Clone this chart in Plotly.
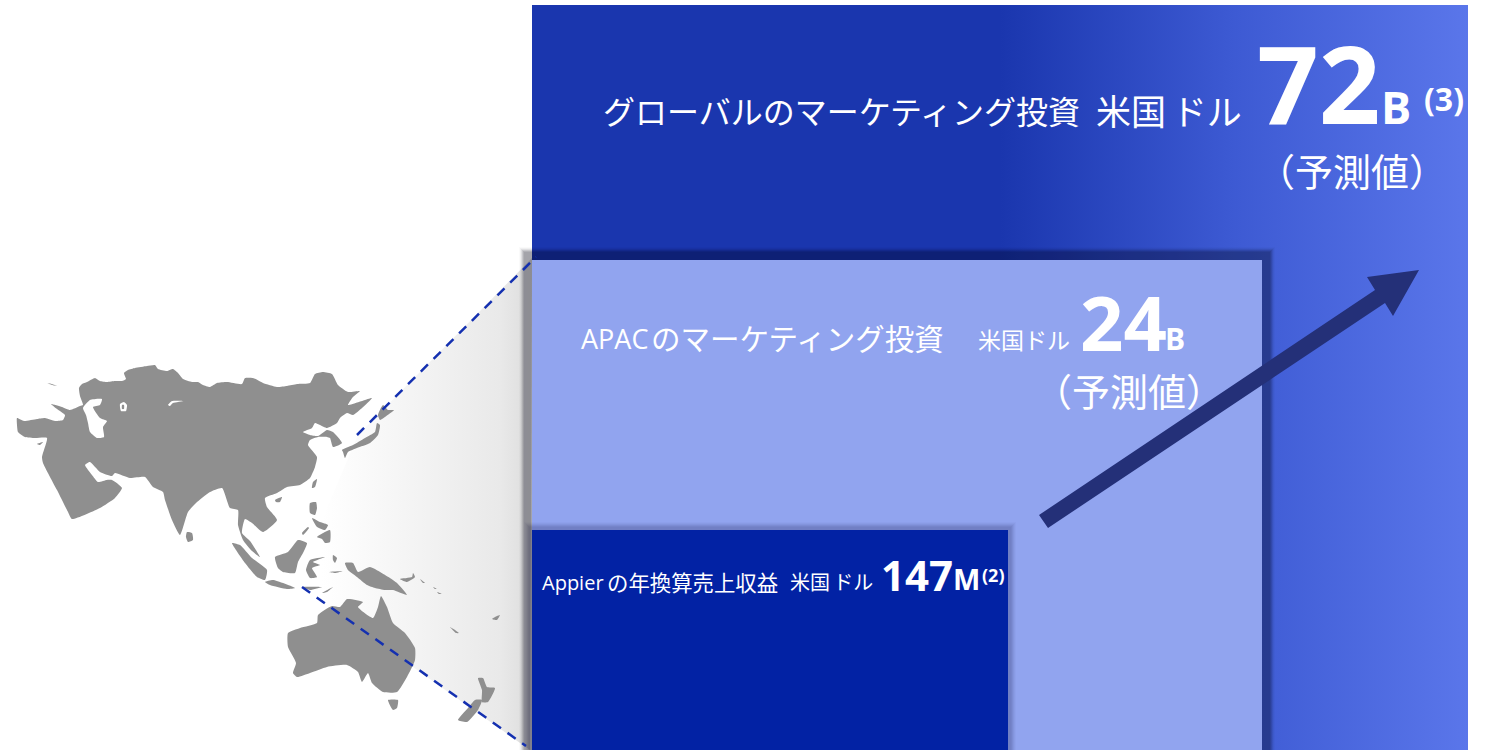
import plotly.graph_objects as go

W, H = 1491, 750
JP = "Open Sans, Noto Sans CJK JP, sans-serif"
NUM = "Open Sans, sans-serif"

# Nested market panels as left, top, right, bottom on the page grid
panel_global = (532, 5, 1468, 750)
panel_apac = (532, 260, 1262, 750)
panel_appier = (532, 530, 1008, 750)

global_stops = [[0, "#1a36ae"], [0.5, "#1a36ae"], [0.75, "#3d5ad3"], [1, "#5a76ea"]]
wedge_stops = [[0, "#ffffff"], [0.12, "#fcfcfc"], [0.85, "#e9e9e9"], [1, "#dcdcdc"]]

wedge_x = [532, 358, 322, 300, 530]
wedge_y = [258, 435, 520, 587, 750]

# Soft edges: outward growth in px and the opacity of that ring
apac_edge = [(13, 0.02), (12, 0.04), (11, 0.07), (10, 0.10), (9, 0.11), (8, 0.08)]
appier_edge = [(8, 0.02), (7, 0.03), (6, 0.04), (5, 0.05), (4, 0.05), (3, 0.03)]

# Arrow outline
arrow_x = [1039, 1375, 1367, 1419, 1393, 1385, 1048]
arrow_y = [515, 290, 277, 270, 316, 303, 528]

# Guide lines from the map to the APAC panel
guide_upper_x, guide_upper_y = [357, 536], [435, 257]
guide_lower_x, guide_lower_y = [302, 526], [587, 746]

# Land outlines
mainland = [(17,418),(24,421),(37,419),(45,418),(55,421),(63,420),(65,415),(57,409),(51,404),(62,407),(70,410),
    (80,406),(83,405),(80,396),(79,388),(82,384),(87,382),(95,378),(100,381),(107,382),(115,381),(122,381),(126,379),
    (124,373),(128,370),(135,368),(147,366),(155,365),(158,369),(167,371),(173,369),(178,373),(183,379),(192,382),
    (198,382),(203,385),(210,387),(217,383),(227,382),(242,384),(245,378),(253,378),(263,383),(277,387),(287,386),
    (297,384),(310,383),(315,374),(323,372),(332,374),(338,385),(348,392),(360,391),(353,397),(348,405),(372,398),
    (362,408),(353,415),(347,413),(340,418),(337,423),(327,428),(320,425),(315,423),(312,428),
    (303,432),(310,435),(318,436),(327,430),(333,432),(342,443),(333,447),(330,438),(327,437),(318,437),
    (310,440),(308,445),(317,457),(315,467),(310,478),(300,485),(287,487),(277,493),(265,498),(267,507),
    (277,520),(263,532),(252,523),(245,519),(242,533),(250,541),(260,557),(252,551),(243,540),(238,525),(238,510),
    (230,508),(222,488),(210,492),(196,503),(188,512),(180,535),(172,520),(165,500),(163,492),(153,487),(145,477),(130,478),
    (115,473),(112,476),(100,472),(90,462),(85,465),(92,475),(98,482),(107,480),(112,480),(122,488),(115,498),
    (100,508),(72,519),(68,512),(57,490),(43,463),(42,457),(47,438),(35,438),(25,437),(18,432),(17,425)]
islands = [
    [(187,532),(192,533),(193,540),(188,542),(186,537)],
    [(37,444),(43,442),(40,445)],
    [(47,383),(52,384),(57,386),(52,385)],
    [(343,452),(342,450),(353,445),(365,438),(375,432),(377,423),(380,425),(378,435),(370,443),(357,448),(348,452),(345,458)],
    [(378,415),(383,405),(388,410),(394,410),(385,417),(380,420)],
    [(312,488),(313,482),(317,479),(315,487)],
    [(275,500),(282,497),(280,502),(276,502)],
    [(310,503),(316,502),(317,508),(315,515),(310,513)],
    [(312,518),(320,522),(328,525),(325,530),(317,527)],
    [(317,537),(330,530),(330,542),(325,543),(322,539)],
    [(302,533),(308,527),(309,528),(303,535)],
    [(232,543),(240,545),(252,558),(267,570),(265,580),(257,577),(245,563)],
    [(265,582),(273,580),(295,588),(287,589),(270,585)],
    [(302,587),(322,587),(310,590)],
    [(322,593),(333,587),(327,592)],
    [(275,557),(288,552),(298,540),(307,543),(303,553),(298,562),(295,573),(283,572),(278,568)],
    [(310,560),(325,557),(313,562),(320,565),(312,568),(317,577),(310,578),(306,570)],
    [(333,555),(337,558),(335,563),(333,560)],
    [(329,572),(343,571),(335,573)],
    [(345,563),(353,563),(358,572),(370,567),(390,578),(397,583),(407,595),(393,590),(385,590),(375,588),(367,585),(357,577),(348,570)],
    [(400,579),(412,577),(413,573),(415,577),(407,582)],
    [(420,579),(425,583),(423,583)],
    [(433,587),(437,589),(435,589)],
    [(437,592),(442,594),(439,594)],
    [(450,627),(459,633),(456,633)],
    [(492,619),(497,616),(500,615),(497,620)],
    [(288,633),(300,628),(317,623),(318,615),(332,606),(340,607),(347,599),(363,602),(358,607),(373,618),(378,607),
     (381,596),(387,607),(393,623),(405,633),(415,648),(415,660),(407,677),(397,692),(383,692),(372,683),(368,673),
     (362,682),(358,672),(347,665),(327,667),(310,673),(297,677),(293,673),(296,663),(288,647)],
    [(388,700),(398,700),(397,708),(393,710)],
    [(478,678),(483,678),(487,687),(495,688),(488,702),(482,702),(482,690)],
    [(475,700),(482,700),(478,710),(467,722),(458,720),(468,708)],
]
# Inland water
caspian = [(83,408),(90,400),(102,399),(100,405),(93,407),(100,418),(107,421),(103,427),(104,437),(97,438),(90,432),(88,423),(86,415)]
aral = [(120,404),(124,402),(127,405),(126,411),(121,411)]
aral_isle = [(122,405),(124,405),(124,409),(122,409)]
balkhash = [(168,405),(172,401),(184,401),(173,403),(170,406)]

# Text runs: string, left x, centre y, size, family, weight
labels = [
    ("グローバルのマーケティング投資", 602, 111, 32, JP, 400),
    ("米国\u2009ドル", 1095, 111, 35, JP, 400),
    ("72", 1256, 82, 108, NUM, 700),
    ("B", 1380, 106, 45, NUM, 700),
    ("(3)", 1423, 98, 32, NUM, 700),
    ("（予測値）", 1256, 171, 38, JP, 400),
    ("APAC", 580, 338, 27, JP, 400),
    ("のマーケティング投資", 650, 338, 29.5, JP, 400),
    ("米国ドル", 977, 340, 23, JP, 400),
    ("24", 1079, 321, 76, NUM, 700),
    ("B", 1164, 338, 30, NUM, 700),
    ("（予測値）", 1033, 391, 38, JP, 400),
    ("Appier", 541, 582, 20, JP, 400),
    ("の年換算売上収益", 606, 582, 21.4, JP, 400),
    ("米国\u2009ドル", 789, 582, 20, JP, 400),
    ("147", 880, 574, 42, NUM, 700),
    ("M", 952, 578, 29, NUM, 700),
    ("(2)", 981, 575, 18, NUM, 700),
]


def rect_xy(box, grow=0):
    left, top, right, bottom = box
    return ([left - grow, right + grow, right + grow, left - grow, left - grow],
            [top - grow, top - grow, bottom + grow, bottom + grow, top - grow])


def fill_trace(xs, ys, color=None, gradient=None, curved=False):
    kw = {"fillgradient": gradient} if gradient else {"fillcolor": color}
    line = dict(width=0, shape="spline", smoothing=0.5) if curved else dict(width=0)
    return go.Scatter(x=xs, y=ys, mode="lines", fill="toself", line=line,
                      hoverinfo="skip", showlegend=False, **kw)


def poly_trace(points, color):
    xs = [p[0] for p in points] + [points[0][0]]
    ys = [p[1] for p in points] + [points[0][1]]
    return fill_trace(xs, ys, color, curved=True)


fig = go.Figure()

gx, gy = rect_xy(panel_global)
fig.add_trace(fill_trace(gx, gy, gradient=dict(type="horizontal", colorscale=global_stops,
                                               start=panel_global[0], stop=panel_global[2])))
fig.add_trace(fill_trace(wedge_x + wedge_x[:1], wedge_y + wedge_y[:1],
                         gradient=dict(type="horizontal", colorscale=wedge_stops, start=322, stop=532)))

for grow, alpha in apac_edge:
    sx, sy = rect_xy(panel_apac, grow)
    fig.add_trace(fill_trace(sx, sy, f"rgba(0,0,20,{alpha})"))
ax, ay = rect_xy(panel_apac)
fig.add_trace(fill_trace(ax, ay, "#91a4ef"))

for grow, alpha in appier_edge:
    sx, sy = rect_xy(panel_appier, grow)
    fig.add_trace(fill_trace(sx, sy, f"rgba(0,0,40,{alpha})"))
px_, py_ = rect_xy(panel_appier)
fig.add_trace(fill_trace(px_, py_, "#0222a4"))

# Map
LAND = "#8f8f8f"
fig.add_trace(poly_trace(mainland, LAND))
for island in islands:
    fig.add_trace(poly_trace(island, LAND))
for water in (caspian, aral, balkhash):
    fig.add_trace(poly_trace(water, "#ffffff"))
fig.add_trace(poly_trace(aral_isle, LAND))

fig.add_trace(fill_trace(arrow_x + arrow_x[:1], arrow_y + arrow_y[:1], "#243078"))

for lx, ly in ((guide_upper_x, guide_upper_y), (guide_lower_x, guide_lower_y)):
    fig.add_trace(go.Scatter(x=lx, y=ly, mode="lines", hoverinfo="skip", showlegend=False,
                             line=dict(color="#1430b0", width=2.5, dash="10px,8px")))

for text, x, y, size, family, weight in labels:
    fig.add_annotation(x=x, y=y, text=text, showarrow=False, xanchor="left", yanchor="middle",
                       xref="x", yref="y", borderpad=0,
                       font=dict(family=family, size=size, color="#ffffff", weight=weight))

fig.update_layout(width=W, height=H, margin=dict(l=0, r=0, t=0, b=0), autosize=False,
                  paper_bgcolor="#ffffff", plot_bgcolor="#ffffff", showlegend=False,
                  xaxis=dict(range=[0, W], visible=False, fixedrange=True),
                  yaxis=dict(range=[H, 0], visible=False, fixedrange=True))
fig.write_html("out.html", config={"displayModeBar": False})
